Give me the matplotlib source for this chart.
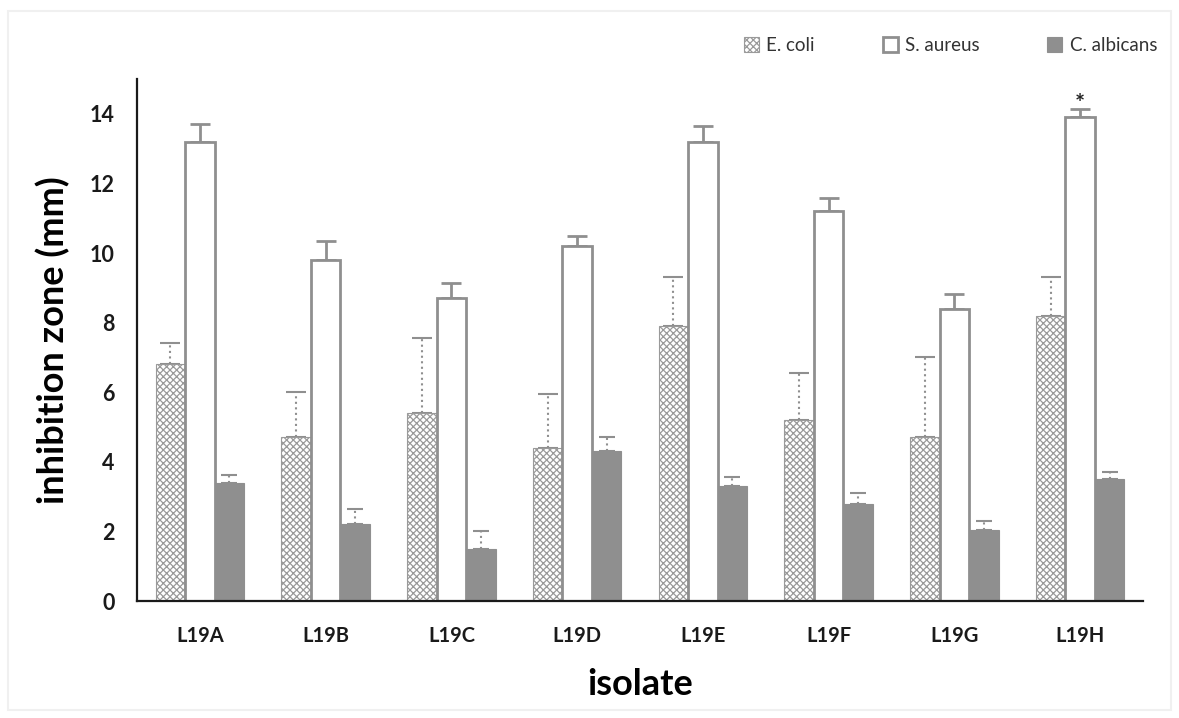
import matplotlib
matplotlib.use("Agg")
import matplotlib.pyplot as plt
import numpy as np
from matplotlib.patches import Rectangle

plt.rcParams['font.family'] = ['Lato', 'DejaVu Sans']
plt.rcParams['hatch.linewidth'] = 0.9

isolates = ["L19A", "L19B", "L19C", "L19D", "L19E", "L19F", "L19G", "L19H"]
ecoli = [6.8, 4.7, 5.4, 4.4, 7.9, 5.2, 4.7, 8.2]
ecoli_err = [0.6, 1.3, 2.15, 1.55, 1.4, 1.35, 2.3, 1.1]
saureus = [13.2, 9.8, 8.7, 10.2, 13.2, 11.2, 8.4, 13.9]
saureus_err = [0.5, 0.55, 0.45, 0.3, 0.45, 0.38, 0.42, 0.25]
calbicans = [3.4, 2.2, 1.5, 4.3, 3.3, 2.8, 2.05, 3.5]
calbicans_err = [0.22, 0.45, 0.5, 0.4, 0.25, 0.3, 0.26, 0.2]
series_names = ["E. coli", "S. aureus", "C. albicans"]

grey = "#8f8f8f"

fig = plt.figure(figsize=(11.79, 7.18), dpi=100)
ax = fig.add_axes([137/1179, 1-601/718, (1143-137)/1179, (601-79)/718])

x = np.arange(len(isolates))
w = 0.235

b1 = ax.bar(x - w, ecoli, w, facecolor="white", edgecolor="#9a9a9a", hatch="xxxxx",
            linewidth=0.8, label=series_names[0], zorder=2)
b2 = ax.bar(x, saureus, w, facecolor="white", edgecolor=grey, linewidth=2.0,
            label=series_names[1], zorder=2)
b3 = ax.bar(x + w, calbicans, w, facecolor=grey, edgecolor=grey, linewidth=0.8,
            label=series_names[2], zorder=2)

def errbars(xpos, vals, errs, ls, lw, cap):
    eb = ax.errorbar(xpos, vals, yerr=[np.zeros(len(errs)), errs], fmt="none",
                     ecolor=grey, elinewidth=lw, capsize=cap, capthick=lw, zorder=1)
    for lc in eb[2]:
        lc.set_linestyle(ls)
    return eb

errbars(x - w, ecoli, ecoli_err, ":", 1.5, 7)
errbars(x, saureus, saureus_err, "-", 2.0, 7)
errbars(x + w, calbicans, calbicans_err, ":", 1.5, 6)

# significance marker
ax.text(x[-1], saureus[-1] + saureus_err[-1] + 0.12, "*", ha="center", va="center",
        fontsize=17, fontweight="bold", color="#222222")

ax.set_xlim(-0.5, len(isolates) - 0.5)
ax.set_ylim(0, 15)
ax.set_yticks(np.arange(0, 15, 2))
ax.set_xticks(x)
ax.set_xticklabels(isolates)
ax.tick_params(axis="both", length=0)
ax.tick_params(axis="y", pad=16, labelsize=15.5)
ax.tick_params(axis="x", pad=18, labelsize=14.5)
for lab in ax.get_xticklabels() + ax.get_yticklabels():
    lab.set_fontweight("bold")
    lab.set_color("#1a1a1a")

for s in ["top", "right"]:
    ax.spines[s].set_visible(False)
for s in ["left", "bottom"]:
    ax.spines[s].set_linewidth(1.6)
    ax.spines[s].set_color("#1a1a1a")

ax.set_ylabel("inhibition zone (mm)", fontsize=26, fontweight="bold", labelpad=14)
ax.set_xlabel("isolate", fontsize=26, fontweight="bold", labelpad=16)

leg = fig.legend(handles=[b1, b2, b3], loc="upper right",
                 bbox_to_anchor=(1174/1179, 1-20/718), ncol=3, frameon=False,
                 fontsize=13.5, handlelength=0.8, handleheight=0.8,
                 handletextpad=0.4, columnspacing=3.6)
for t in leg.get_texts():
    t.set_color("#333333")

# faint chart-area border
fig.patches.append(Rectangle((8/1179, 8/718), 1-16/1179, 1-19/718, transform=fig.transFigure,
                             fill=False, edgecolor="#f0f0f0", linewidth=1.5))

fig.savefig("out.png", dpi=100)
